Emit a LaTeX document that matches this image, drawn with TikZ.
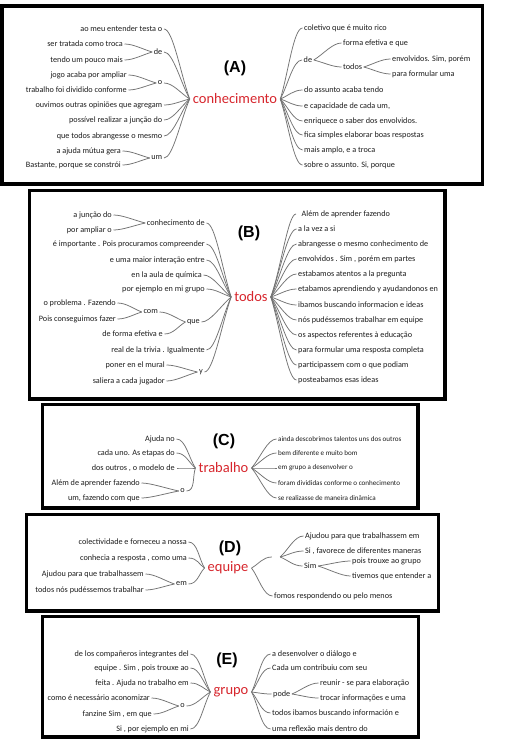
\documentclass[tikz,border=0pt]{standalone}
\usepackage{fontspec}
\setmainfont{Carlito}
\newfontfamily\titlefont{Liberation Sans}
\usetikzlibrary{calc}
\definecolor{txt}{RGB}{30,30,30}
\definecolor{rootred}{RGB}{215,38,45}
\definecolor{lnk}{RGB}{115,115,115}
\tikzset{
 leaf/.style={font=\fontsize{8.2}{9}\selectfont, text=txt, inner sep=1.5pt},
 lleaf/.style={leaf, anchor=east},
 rleaf/.style={leaf, anchor=west},
 smallleaf/.style={rleaf, font=\fontsize{7.1}{8}\selectfont},
 rootnode/.style={font=\fontsize{14.5}{16}\selectfont, text=rootred, inner sep=3pt},
 paneltitle/.style={font=\titlefont\bfseries\fontsize{16}{18}\selectfont, inner sep=0pt},
 frame/.style={draw=black, line width=3.4pt, line join=miter},
 conn/.style={draw=lnk, line width=0.75pt},
}
\newcommand\brLeft[2]{\draw[conn] (#1) .. controls ($(#1)!0.35!(#2)$) and ($(#2)+(9,0)$) .. (#2);}
\newcommand\brRight[2]{\draw[conn] (#1) .. controls ($(#1)!0.35!(#2)$) and ($(#2)+(-9,0)$) .. (#2);}
\begin{document}
\begin{tikzpicture}[x=1pt,y=-1pt]
\useasboundingbox[fill=white] (0,0) rectangle (510,747);

% ================= Panel A =================
\draw[frame] (1.8,6) rectangle (482.5,184);
\node[paneltitle] (tA) at (235,68) {(A)};
\node[rootnode] (cA) at (235,99) {conhecimento};
\node[lleaf] (aL1) at (164,29) {ao meu entender testa o};
\node[lleaf] (aDe) at (164,52) {de};
\node[lleaf] (aDe1) at (124.5,44) {ser tratada como troca};
\node[lleaf] (aDe2) at (124.5,60) {tendo um pouco mais};
\node[lleaf] (aO) at (164,83) {o};
\node[lleaf] (aO1) at (128.5,75) {jogo acaba por ampliar};
\node[lleaf] (aO2) at (128.5,90) {trabalho foi dividido conforme};
\node[lleaf] (aL4) at (164,105) {ouvimos outras opiniões que agregam};
\node[lleaf] (aL5) at (164,120) {possível realizar a junção do};
\node[lleaf] (aL6) at (164,136) {que todos abrangesse o mesmo};
\node[lleaf] (aUm) at (164,158) {um};
\node[lleaf] (aUm1) at (122.5,151) {a ajuda mútua gera};
\node[lleaf] (aUm2) at (122.5,165) {Bastante, porque se constrói};
\foreach \n in {aL1,aDe,aO,aL4,aL5,aL6,aUm} {\brLeft{cA.west}{\n.east}}
\brLeft{aDe.west}{aDe1.east}\brLeft{aDe.west}{aDe2.east}
\brLeft{aO.west}{aO1.east}\brLeft{aO.west}{aO2.east}
\brLeft{aUm.west}{aUm1.east}\brLeft{aUm.west}{aUm2.east}

\node[rleaf] (aR1) at (302.5,28) {coletivo que é muito rico};
\node[rleaf] (aRde) at (302,60) {de};
\node[rleaf] (aRde1) at (341.5,43) {forma efetiva e que};
\node[rleaf] (aRto) at (341.5,67) {todos};
\node[rleaf] (aRt1) at (390.5,59) {envolvidos. Sim, porém};
\node[rleaf] (aRt2) at (390.5,74) {para formular uma};
\node[rleaf] (aR3) at (302.5,90) {do assunto acaba tendo};
\node[rleaf] (aR4) at (302.5,106) {e capacidade de cada um,};
\node[rleaf] (aR5) at (302.5,121) {enriquece o saber dos envolvidos.};
\node[rleaf] (aR6) at (302.5,135) {fica simples elaborar boas respostas};
\node[rleaf] (aR7) at (302.5,150) {mais amplo, e a troca};
\node[rleaf] (aR8) at (302.5,165) {sobre o assunto. Si, porque};
\foreach \n in {aR1,aRde,aR3,aR4,aR5,aR6,aR7,aR8} {\brRight{cA.east}{\n.west}}
\brRight{aRde.east}{aRde1.west}\brRight{aRde.east}{aRto.west}
\brRight{aRto.east}{aRt1.west}\brRight{aRto.east}{aRt2.west}

% ================= Panel B =================
\draw[frame] (29.5,190.5) rectangle (445,399);
\node[paneltitle] (tB) at (249,233) {(B)};
\node[rootnode] (cB) at (251,297) {todos};
\node[lleaf] (bCon) at (206.5,223) {conhecimento de};
\node[lleaf] (bCon1) at (113.5,215) {a junção do};
\node[lleaf] (bCon2) at (113.5,230) {por ampliar o};
\node[lleaf] (bL2) at (206.5,244) {é importante . Pois procuramos compreender};
\node[lleaf] (bL3) at (206.5,260) {e uma maior interação entre};
\node[lleaf] (bL4) at (203.5,275) {en la aula de química};
\node[lleaf] (bL5) at (206.5,289) {por ejemplo en mi grupo};
\node[lleaf] (bQue) at (201.5,322) {que};
\node[lleaf] (bCom) at (159.5,312) {com};
\node[lleaf] (bCom1) at (117.5,303) {o problema . Fazendo};
\node[lleaf] (bCom2) at (117.5,319) {Pois conseguimos fazer};
\node[lleaf] (bQ2) at (164.5,334) {de forma efetiva e};
\node[lleaf] (bL7) at (206.5,350) {real de la trivia . Igualmente};
\node[lleaf] (bY) at (204.5,372) {y};
\node[lleaf] (bY1) at (166.5,365) {poner en el mural};
\node[lleaf] (bY2) at (166.5,381) {saliera a cada jugador};
\foreach \n in {bCon,bL2,bL3,bL4,bL5,bQue,bL7,bY} {\brLeft{cB.west}{\n.east}}
\brLeft{bCon.west}{bCon1.east}\brLeft{bCon.west}{bCon2.east}
\brLeft{bQue.west}{bCom.east}\brLeft{bQue.west}{bQ2.east}
\brLeft{bCom.west}{bCom1.east}\brLeft{bCom.west}{bCom2.east}
\brLeft{bY.west}{bY1.east}\brLeft{bY.west}{bY2.east}

\node[rleaf] (bR1) at (300,214) {Além de aprender fazendo};
\node[rleaf] (bR2) at (296.5,229) {a la vez a si};
\node[rleaf] (bR3) at (296.5,244) {abrangesse o mesmo conhecimento de};
\node[rleaf] (bR4) at (296.5,259) {envolvidos . Sim , porém em partes};
\node[rleaf] (bR5) at (296.5,274) {estabamos atentos a la pregunta};
\node[rleaf] (bR6) at (296.5,289) {etabamos aprendiendo y ayudandonos en};
\node[rleaf] (bR7) at (296.5,305) {ibamos buscando informacion e ideas};
\node[rleaf] (bR8) at (296.5,320) {nós pudéssemos trabalhar em equipe};
\node[rleaf] (bR9) at (296.5,335) {os aspectos referentes à educação};
\node[rleaf] (bR10) at (296.5,350) {para formular uma resposta completa};
\node[rleaf] (bR11) at (296.5,365) {participassem com o que podiam};
\node[rleaf] (bR12) at (296.5,380) {posteabamos esas ideas};
\foreach \n in {bR2,bR3,bR4,bR5,bR6,bR7,bR8,bR9,bR10,bR11,bR12} {\brRight{cB.east}{\n.west}}
\draw[conn] (cB.east) .. controls ($(cB.east)!0.35!(bR1.west)$) and ($(bR1.west)+(-12,0)$) .. ($(bR1.west)+(-4,0)$);

% ================= Panel C =================
\draw[frame] (42.5,404.5) rectangle (418,508);
\node[paneltitle] (tC) at (224,441) {(C)};
\node[rootnode] (cC) at (223.5,468) {trabalho};
\node[lleaf] (cL1) at (176.5,439) {Ajuda no};
\node[lleaf] (cL2) at (176.5,453) {cada uno. As etapas do};
\node[lleaf] (cL3) at (176.5,468) {dos outros , o modelo de};
\node[lleaf] (cO) at (186.5,491) {o};
\node[lleaf] (cO1) at (141.5,483) {Além de aprender fazendo};
\node[lleaf] (cO2) at (141.5,498) {um, fazendo com que};
\foreach \n in {cL1,cL2,cL3,cO} {\brLeft{cC.west}{\n.east}}
\brLeft{cO.west}{cO1.east}\brLeft{cO.west}{cO2.east}
\node[smallleaf] (cR1) at (276.5,439) {ainda descobrimos talentos uns dos outros};
\node[smallleaf] (cR2) at (276.5,453) {bem diferente e muito bom};
\node[smallleaf] (cR3) at (276.5,468) {em grupo a desenvolver o};
\node[smallleaf] (cR4) at (276.5,483) {foram divididas conforme o conhecimento};
\node[smallleaf] (cR5) at (276.5,498) {se realizasse de maneira dinâmica};
\foreach \n in {cR1,cR2,cR3,cR4,cR5} {\brRight{cC.east}{\n.west}}

% ================= Panel D =================
\draw[frame] (26.5,514.5) rectangle (438.5,611);
\node[paneltitle] (tD) at (230,548) {(D)};
\node[rootnode] (cD) at (228,568) {equipe};
\node[lleaf] (dL1) at (188.5,542) {colectividade e forneceu a nossa};
\node[lleaf] (dL2) at (188.5,558) {conhecia a resposta , como uma};
\node[lleaf] (dEm) at (188.5,584) {em};
\node[lleaf] (dEm1) at (145.5,574) {Ajudou para que trabalhassem};
\node[lleaf] (dEm2) at (145.5,590) {todos nós pudéssemos trabalhar};
\foreach \n in {dL1,dL2,dEm} {\brLeft{cD.west}{\n.east}}
\brLeft{dEm.west}{dEm1.east}\brLeft{dEm.west}{dEm2.east}
\node[inner sep=0pt, minimum width=8pt, minimum height=2pt] (dJ) at (276,557) {};
\node[rleaf] (dR1) at (303.5,536) {Ajudou para que trabalhassem em};
\node[rleaf] (dR2) at (303.5,551) {Si , favorece de diferentes maneras};
\node[rleaf] (dSim) at (302.5,566) {Sim};
\node[rleaf] (dSim1) at (350.5,561) {pois trouxe ao grupo};
\node[rleaf] (dSim2) at (350.5,576) {tivemos que entender a};
\node[rleaf] (dR4) at (272.5,596) {fomos respondendo ou pelo menos};
\brRight{cD.east}{dJ.west}
\brRight{cD.east}{dR4.west}
\foreach \n in {dR1,dR2,dSim} {\brRight{dJ.east}{\n.west}}
\brRight{dSim.east}{dSim1.west}\brRight{dSim.east}{dSim2.west}

% ================= Panel E =================
\draw[frame] (42.5,616.5) rectangle (418.5,737);
\node[paneltitle] (tE) at (227,660) {(E)};
\node[rootnode] (cE) at (231,692) {grupo};
\node[lleaf] (eL1) at (190.5,654) {de los compañeros integrantes del};
\node[lleaf] (eL2) at (190.5,668) {equipe . Sim , pois trouxe ao};
\node[lleaf] (eL3) at (190.5,683) {feita . Ajuda no trabalho em};
\node[lleaf] (eO) at (186.5,706) {o};
\node[lleaf] (eO1) at (151.5,698) {como é necessário aconomizar};
\node[lleaf] (eO2) at (153.5,714) {fanzine Sim , em que};
\node[lleaf] (eL6) at (190.5,729) {Si , por ejemplo en mi};
\foreach \n in {eL1,eL2,eL3,eO,eL6} {\brLeft{cE.west}{\n.east}}
\brLeft{eO.west}{eO1.east}\brLeft{eO.west}{eO2.east}
\node[rleaf] (eR1) at (270.5,654) {a desenvolver o diálogo e};
\node[rleaf] (eR2) at (270.5,668) {Cada um contribuiu com seu};
\node[rleaf] (ePode) at (271.5,694) {pode};
\node[rleaf] (ePode1) at (318.5,683) {reunir - se para elaboração};
\node[rleaf] (ePode2) at (318.5,698) {trocar informações e uma};
\node[rleaf] (eR4) at (270.5,713) {todos ibamos buscando información e};
\node[rleaf] (eR5) at (270.5,729) {uma reflexão mais dentro do};
\foreach \n in {eR1,eR2,ePode,eR4,eR5} {\brRight{cE.east}{\n.west}}
\brRight{ePode.east}{ePode1.west}\brRight{ePode.east}{ePode2.west}
\end{tikzpicture}
\end{document}
